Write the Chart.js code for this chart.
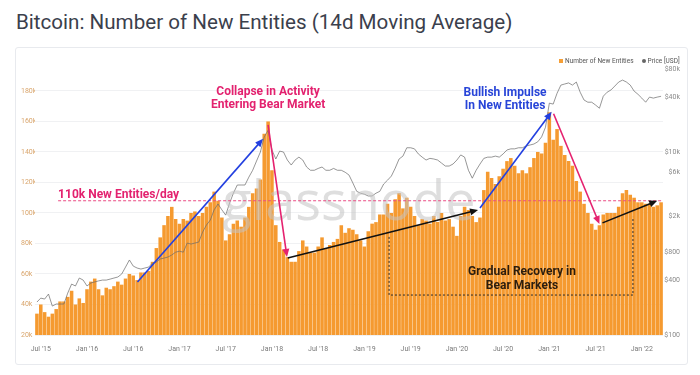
<!DOCTYPE html>
<html>
<head>
<meta charset="utf-8">
<script src="https://cdn.jsdelivr.net/npm/chart.js@4.4.0/dist/chart.umd.min.js"></script>
<style>
  body { margin: 0; width: 700px; height: 375px; background: #fff; font-family: Roboto, sans-serif; position: relative; overflow: hidden; }
  .title { position: absolute; left: 16px; top: 10px; font-size: 20.6px; color: #3b404c; white-space: nowrap; }
  .card { position: absolute; left: 15px; top: 47px; width: 671px; height: 316px; border: 1px solid #e8eaee; border-radius: 3px; }
  #wrap { position: absolute; left: 15px; top: 47px; width: 673px; height: 318px; }
  .legend { position: absolute; left: 559px; top: 57px; font-size: 6.5px; color: #555; white-space: nowrap; }
  .legend i { display: inline-block; width: 4px; height: 4px; margin-right: 2px; vertical-align: middle; }
</style>
</head>
<body>
<div class="title">Bitcoin: Number of New Entities (14d Moving Average)</div>
<div class="card"></div>
<div id="wrap"><canvas id="entitiesChart"></canvas></div>
<div class="legend"><i style="background:#f69f36"></i>Number of New Entities &nbsp;&nbsp;&nbsp;&nbsp;<i style="background:#666;border-radius:50%"></i>Price [USD]</div>
<script>
// Bitcoin new entities (14d MA) vs price

// half-month categories, Jun 15 2015 .. Mar 15 2022
const dates = [];
for (let y = 2015, m = 5, d = 15; dates.length < 163; ) {
    dates.push(y + '-' + String(m + 1).padStart(2, '0') + '-' + (d === 1 ? '01' : '15'));
    if (d === 1) { d = 15; } else { d = 1; m++; if (m > 11) { m = 0; y++; } }
}

// new entities, thousands
const newEntities = [
    34, 40, 35, 32, 34, 37, 42, 42, 45, 49,
    40, 44, 41, 50, 55, 57, 50, 46, 51, 50,
    52, 55, 53, 57, 60, 59, 56, 61, 61, 62,
    68, 77, 84, 92, 98, 104, 96, 93, 96, 95,
    100, 101, 98, 100, 104, 107, 114, 108, 97, 82,
    86, 93, 95, 91, 97, 104, 113, 116, 122, 152,
    160, 128, 92, 81, 76, 71, 68, 68, 75, 82,
    78, 74, 74, 78, 84, 77, 79, 81, 83, 92,
    87, 90, 89, 86, 82, 78, 88, 93, 94, 99,
    99, 106, 100, 109, 113, 103, 110, 104, 98, 92,
    96, 95, 93, 98, 94, 100, 95, 96, 91, 85,
    98, 104, 102, 98, 94, 97, 115, 127, 123, 119,
    124, 129, 134, 136, 131, 126, 128, 126, 130, 136,
    140, 139, 146, 166, 148, 155, 144, 138, 134, 131,
    121, 114, 106, 100, 93, 89, 92, 99, 100, 100,
    100, 104, 113, 115, 112, 110, 107, 107, 106, 106,
    104, 105, 107
];

// BTC price, USD
const price = [
    229, 253, 247, 280, 207, 218, 218, 218, 287, 360,
    343, 419, 398, 343, 370, 380, 390, 398, 398, 408,
    419, 430, 463, 552, 660, 566, 539, 525, 539, 552,
    611, 626, 676, 693, 710, 748, 803, 823, 803, 1010,
    985, 1010, 1035, 1330, 1590, 1800, 2330, 2700, 2330, 2040,
    2760, 3540, 4350, 4350, 4350, 5300, 6300, 7950, 9970, 14600,
    17200, 10500, 8370, 10200, 9970, 8150, 7190, 8150, 8770, 8150,
    6840, 6300, 6300, 6600, 6840, 6300, 6300, 6600, 6300, 6300,
    6000, 5590, 4580, 3710, 3540, 3450, 3300, 3300, 3540, 3710,
    4460, 4910, 5450, 6650, 8370, 9000, 11100, 11100, 10800, 9500,
    8770, 8150, 8500, 8370, 8150, 7560, 7010, 7010, 7370, 8150,
    9270, 8770, 6300, 5160, 6300, 7370, 8500, 8770, 8770, 9000,
    8770, 9500, 10500, 10800, 10800, 11100, 11100, 11600, 11900, 12200,
    12900, 14600, 18600, 34100, 33300, 43700, 53700, 55200, 56700, 53700,
    58000, 44900, 36900, 34900, 34900, 32500, 30000, 40600, 44900, 47500,
    52400, 58000, 60900, 58000, 53700, 46200, 42600, 38700, 34900, 39700,
    38700, 39700, 40500
];

const entityTicks = [20, 40, 60, 80, 100, 120, 140, 160, 180];
const priceTicks = [100, 400, 800, 2000, 6000, 10000, 40000, 80000];
const monthNames = ['Jan', 'Feb', 'Mar', 'Apr', 'May', 'Jun', 'Jul', 'Aug', 'Sep', 'Oct', 'Nov', 'Dec'];

// annotations: [index, value(k)] pairs on the entities axis
const threshold = 108;
const arrows = [
    { from: [26.1, 54.8], to: [58.7, 148.6], color: '#2340e0' },
    { from: [60.0, 157.8], to: [64.9, 71.2], color: '#e5226f' },
    { from: [65.1, 70.5], to: [114.5, 102.0], color: '#111111' },
    { from: [115.0, 103.3], to: [133.6, 166.3], color: '#2340e0' },
    { from: [134.1, 165.0], to: [146.0, 92.8], color: '#e5226f' },
    { from: [146.8, 93.5], to: [161.0, 108.0], color: '#111111' }
];
const notes = [
    { at: [5.5, 111.8], lines: ['110k New Entities/day'], color: '#e3226f', align: 'left' },
    { at: [60.0, 179.4], lines: ['Collapse in Activity', 'Entering Bear Market'], color: '#e3226f', align: 'center' },
    { at: [121.5, 178.8], lines: ['Bullish Impulse', 'In New Entities'], color: '#2845d8', align: 'center' },
    { at: [125.9, 61.3], lines: ['Gradual Recovery in', 'Bear Markets'], color: '#2b1d0e', align: 'center' }
];
const box = { left: 91.4, right: 154.7, bottom: 46.2, leftTop: 84.3, rightTop: 97.4 };

function drawArrow(ctx, x1, y1, x2, y2, color) {
    const a = Math.atan2(y2 - y1, x2 - x1);
    const len = 8, half = 3.5;
    ctx.strokeStyle = color;
    ctx.fillStyle = color;
    ctx.lineWidth = 1.6;
    ctx.beginPath();
    ctx.moveTo(x1, y1);
    ctx.lineTo(x2 - Math.cos(a) * len * 0.8, y2 - Math.sin(a) * len * 0.8);
    ctx.stroke();
    ctx.beginPath();
    ctx.moveTo(x2, y2);
    ctx.lineTo(x2 - Math.cos(a) * len - Math.sin(a) * half, y2 - Math.sin(a) * len + Math.cos(a) * half);
    ctx.lineTo(x2 - Math.cos(a) * len + Math.sin(a) * half, y2 - Math.sin(a) * len - Math.cos(a) * half);
    ctx.closePath();
    ctx.fill();
}

const annotate = {
    id: 'annotate',
    afterDatasetsDraw(chart) {
        const ctx = chart.ctx;
        const xs = chart.scales.x, ys = chart.scales.y;
        const area = chart.chartArea;
        const px = i => xs.getPixelForValue(i);
        const py = v => ys.getPixelForValue(v);
        ctx.save();

        // watermark
        ctx.font = '54px "Open Sans", sans-serif';
        ctx.fillStyle = 'rgba(195, 195, 195, 0.55)';
        ctx.textAlign = 'center';
        ctx.textBaseline = 'alphabetic';
        ctx.fillText('glassnode', (area.left + area.right) / 2, area.top + 155);

        // 110k threshold
        ctx.strokeStyle = '#ea4c84';
        ctx.lineWidth = 1;
        ctx.setLineDash([3, 2]);
        ctx.beginPath();
        ctx.moveTo(px(5.5), py(threshold));
        ctx.lineTo(area.right, py(threshold));
        ctx.stroke();

        // recovery bracket
        ctx.strokeStyle = '#2a2a2a';
        ctx.setLineDash([2, 2]);
        ctx.beginPath();
        ctx.moveTo(px(box.left), py(box.leftTop));
        ctx.lineTo(px(box.left), py(box.bottom));
        ctx.lineTo(px(box.right), py(box.bottom));
        ctx.lineTo(px(box.right), py(box.rightTop));
        ctx.stroke();
        ctx.setLineDash([]);

        arrows.forEach(a => drawArrow(ctx, px(a.from[0]), py(a.from[1]), px(a.to[0]), py(a.to[1]), a.color));

        ctx.font = 'bold 12px Roboto, sans-serif';
        ctx.textBaseline = 'middle';
        notes.forEach(n => {
            ctx.fillStyle = n.color;
            ctx.textAlign = n.align;
            n.lines.forEach((t, k) => ctx.fillText(t, px(n.at[0]), py(n.at[1]) + k * 13.5));
        });
        ctx.restore();
    }
};

new Chart(document.getElementById('entitiesChart'), {
    data: {
        labels: dates,
        datasets: [{
            type: 'line',
            label: 'Price [USD]',
            data: price,
            yAxisID: 'y1',
            borderColor: '#6a6a6a',
            borderWidth: 0.7,
            pointRadius: 0,
            tension: 0,
            order: 0
        }, {
            type: 'bar',
            label: 'Number of New Entities',
            data: newEntities,
            yAxisID: 'y',
            backgroundColor: '#f59a30',
            barPercentage: 0.92,
            categoryPercentage: 1,
            order: 1
        }]
    },
    options: {
        responsive: true,
        maintainAspectRatio: false,
        animation: false,
        layout: { padding: { left: 6, right: 8, top: 18, bottom: 10 } },
        plugins: {
            legend: { display: false },
            tooltip: { enabled: false }
        },
        scales: {
            x: {
                grid: { display: false, drawTicks: false },
                border: { display: false },
                afterFit: s => { s.height = 20; },
                ticks: {
                    autoSkip: false,
                    maxRotation: 0,
                    padding: 10,
                    color: '#7a7a7a',
                    font: { size: 7, family: 'Roboto' },
                    callback: function(value) {
                        const d = dates[value];
                        const m = +d.slice(5, 7);
                        if (d.slice(8) !== '01' || (m !== 1 && m !== 7)) return '';
                        return monthNames[m - 1] + " '" + d.slice(2, 4);
                    }
                }
            },
            y: {
                position: 'left',
                min: 20,
                max: 197,
                afterFit: s => { s.width = 14; },
                afterBuildTicks: s => { s.ticks = entityTicks.map(v => ({ value: v })); },
                grid: { color: '#f0f1f3', drawTicks: false },
                border: { display: false },
                ticks: {
                    crossAlign: 'far',
                    color: '#d9a56c',
                    font: { size: 7, family: 'Roboto' },
                    callback: v => v + 'k'
                }
            },
            y1: {
                type: 'logarithmic',
                position: 'right',
                min: 100,
                max: 89000,
                afterFit: s => { s.width = 17; },
                afterBuildTicks: s => { s.ticks = priceTicks.map(v => ({ value: v })); },
                grid: { display: false, drawTicks: false },
                border: { display: false },
                ticks: {
                    crossAlign: 'far',
                    color: '#8a8a8a',
                    font: { size: 7, family: 'Roboto' },
                    callback: v => '$' + (v >= 1000 ? (v / 1000) + 'k' : v)
                }
            }
        }
    },
    plugins: [annotate]
});
</script>
</body>
</html>
